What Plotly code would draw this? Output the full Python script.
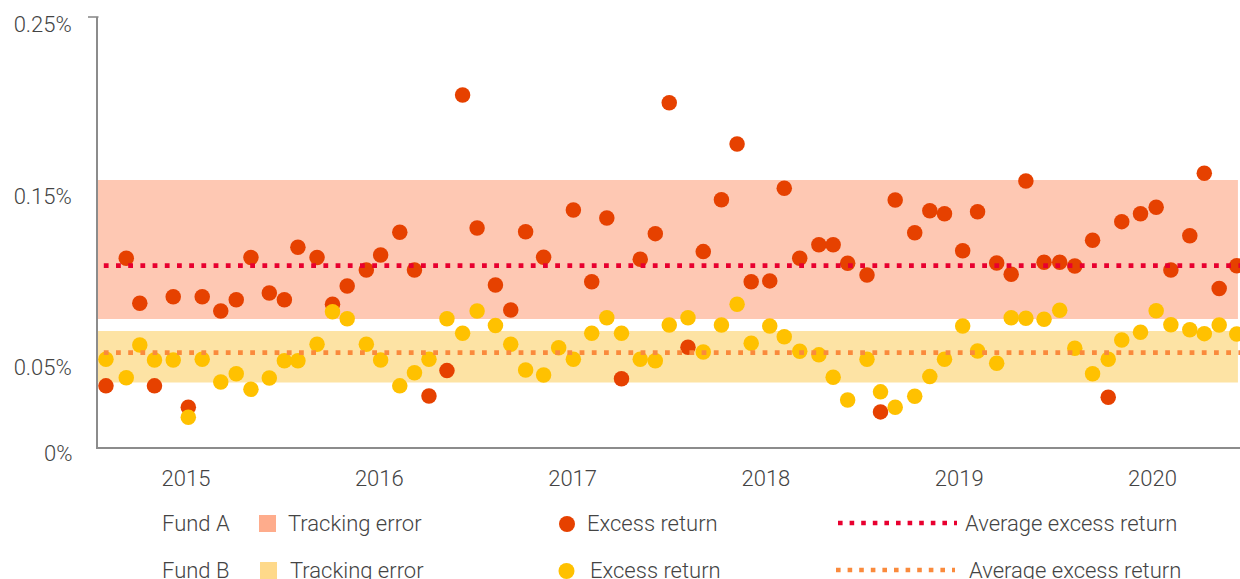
import plotly.graph_objects as go

# ---------------- data ----------------
dates = [2014.586, 2014.691, 2014.761, 2014.837, 2014.934, 2015.012, 2015.084, 2015.180, 2015.260, 2015.336,
         2015.431, 2015.509, 2015.579, 2015.678, 2015.758, 2015.834, 2015.933, 2016.007, 2016.106, 2016.182,
         2016.257, 2016.350, 2016.431, 2016.506, 2016.601, 2016.680, 2016.757, 2016.850, 2016.928, 2017.004,
         2017.099, 2017.177, 2017.253, 2017.350, 2017.428, 2017.500, 2017.597, 2017.676, 2017.770, 2017.851,
         2017.924, 2018.020, 2018.095, 2018.175, 2018.274, 2018.348, 2018.423, 2018.523, 2018.593, 2018.669,
         2018.770, 2018.848, 2018.924, 2019.018, 2019.095, 2019.194, 2019.269, 2019.345, 2019.439, 2019.520,
         2019.598, 2019.690, 2019.771, 2019.841, 2019.938, 2020.019, 2020.095, 2020.193, 2020.268, 2020.345,
         2020.436]

fund_a_excess = [0.0391, 0.1136, 0.0873, 0.0391, 0.0912, 0.0266, 0.0912, 0.0828, 0.0894, 0.1140,
                 0.0933, 0.0894, 0.1200, 0.1140, 0.0867, 0.0974, 0.1068, 0.1155, 0.1288, 0.1068,
                 0.0332, 0.0480, 0.2089, 0.1313, 0.0980, 0.0834, 0.1291, 0.1142, None, 0.1418,
                 0.0999, 0.1371, 0.0433, 0.1130, 0.1280, 0.2044, 0.0616, 0.1175, 0.1478, 0.1803,
                 0.0999, 0.1004, 0.1545, 0.1136, 0.1215, 0.1215, 0.1107, 0.1039, 0.0239, 0.1476,
                 0.1285, 0.1414, 0.1396, 0.1180, 0.1408, 0.1109, 0.1043, 0.1587, 0.1113, 0.1113,
                 0.1091, 0.1241, 0.0325, 0.1350, 0.1396, 0.1434, 0.1068, 0.1268, 0.1632, 0.0959,
                 0.1093]

fund_b_excess = [0.0546, 0.0439, 0.0630, 0.0542, 0.0542, 0.0208, 0.0546, 0.0414, 0.0462, 0.0371,
                 0.0437, 0.0538, 0.0538, 0.0634, 0.0824, 0.0783, 0.0634, 0.0542, 0.0391, 0.0468,
                 0.0546, 0.0783, 0.0698, 0.0828, 0.0743, 0.0634, 0.0484, 0.0455, 0.0614, 0.0546,
                 0.0698, 0.0789, 0.0698, 0.0546, 0.0538, 0.0747, 0.0789, 0.0589, 0.0747, 0.0867,
                 0.0640, 0.0741, 0.0678, 0.0593, 0.0572, 0.0441, 0.0309, 0.0546, 0.0356, 0.0266,
                 0.0330, 0.0445, 0.0546, 0.0741, 0.0595, 0.0523, 0.0789, 0.0786, 0.0780, 0.0832,
                 0.0611, 0.0462, 0.0546, 0.0659, 0.0704, 0.0830, 0.0748, 0.0719, 0.0696, 0.0747,
                 0.0694]

fund_a_tracking = [0.0782, 0.1593]   # band low / high (%)
fund_b_tracking = [0.0410, 0.0712]
fund_a_avg = 0.1093
fund_b_avg = 0.0585

year_ticks = [2015, 2016, 2017, 2018, 2019, 2020]
year_labels = ["2015", "2016", "2017", "2018", "2019", "2020"]
y_ticks = [0.05, 0.15, 0.25]
y_labels = ["0.05%", "0.15%", "0.25%"]

# ---------------- style ----------------
W, H = 1240, 579
ML, MR, MT, MB = 98, 0, 17, 132
X_RANGE = [2014.5448, 2020.4527]
Y_RANGE = [0.0034, 0.2545]
FONT = "Roboto"
FS = 22
TXT = "#444444"
RED = "#E64100"
YEL = "#FFC100"
RED_AVG = "#E8002F"
ORG_AVG = "#FA8A3C"
BAND_A = "#FEC8B3"
BAND_B = "#FDE3A4"
SQ_A = "#FEAC8C"
SQ_B = "#FED98A"
TFONT = dict(family=FONT, size=FS, color=TXT, weight=300)


def px(x):  # pixel -> paper x
    return (x - ML) / (W - ML - MR)


def py(y):  # pixel -> paper y
    return (H - MB - y) / (H - MT - MB)


fig = go.Figure()

# tracking error bands
band_right = 2020.442
for lo_hi, col in ((fund_a_tracking, BAND_A), (fund_b_tracking, BAND_B)):
    fig.add_shape(type="rect", xref="x", yref="y", x0=X_RANGE[0], x1=band_right,
                  y0=lo_hi[0], y1=lo_hi[1], fillcolor=col, line_width=0, layer="below")

# excess return markers
fig.add_trace(go.Scatter(x=dates, y=fund_a_excess, mode="markers", name="Fund A excess return",
                         marker=dict(color=RED, size=15.5, line=dict(width=0)), cliponaxis=False))
fig.add_trace(go.Scatter(x=dates, y=fund_b_excess, mode="markers", name="Fund B excess return",
                         marker=dict(color=YEL, size=15.5, line=dict(width=0)), cliponaxis=False))

# average lines
for avg, col in ((fund_a_avg, RED_AVG), (fund_b_avg, ORG_AVG)):
    fig.add_trace(go.Scatter(x=[X_RANGE[0] + 0.03, X_RANGE[1]], y=[avg, avg], mode="lines",
                             line=dict(color=col, width=4.8, dash="4.8px,7.4px"),
                             hoverinfo="skip", showlegend=False))

# top stub of the y axis
fig.add_shape(type="line", xref="paper", yref="paper", x0=px(88), x1=px(98.5), y0=1, y1=1,
              line=dict(color="#8c8c8c", width=1.6))

annotations = []
# 0% label (sits just below the axis floor)
annotations.append(dict(text="0%", xref="paper", yref="paper", x=px(74), y=py(453),
                        xanchor="right", yanchor="middle", showarrow=False, font=TFONT))

# custom legend
rows = [
    dict(yc=523, fund="Fund A", sq=SQ_A, sqx=259, dot=RED, dotx=567, tx1=286, tx2=585,
         lx0=838, lx1=957, lcol=RED_AVG, tx3=963),
    dict(yc=570, fund="Fund B", sq=SQ_B, sqx=260, dot=YEL, dotx=566.5, tx1=288, tx2=588,
         lx0=836, lx1=955, lcol=ORG_AVG, tx3=967),
]
for r in rows:
    yc = r["yc"]
    annotations.append(dict(text=r["fund"], xref="paper", yref="paper", x=px(160), y=py(yc),
                            xanchor="left", yanchor="middle", showarrow=False, font=TFONT))
    fig.add_shape(type="rect", xref="paper", yref="paper", x0=px(r["sqx"]), x1=px(r["sqx"] + 17),
                  y0=py(yc + 9), y1=py(yc - 8), fillcolor=r["sq"], line_width=0)
    annotations.append(dict(text="Tracking error", xref="paper", yref="paper", x=px(r["tx1"]), y=py(yc),
                            xanchor="left", yanchor="middle", showarrow=False, font=TFONT))
    fig.add_shape(type="circle", xref="paper", yref="paper", x0=px(r["dotx"] - 8), x1=px(r["dotx"] + 8),
                  y0=py(yc + 9), y1=py(yc - 7), fillcolor=r["dot"], line_width=0)
    annotations.append(dict(text="Excess return", xref="paper", yref="paper", x=px(r["tx2"]), y=py(yc),
                            xanchor="left", yanchor="middle", showarrow=False, font=TFONT))
    fig.add_shape(type="line", xref="paper", yref="paper", x0=px(r["lx0"]), x1=px(r["lx1"]),
                  y0=py(yc), y1=py(yc), line=dict(color=r["lcol"], width=4.6, dash="4.6px,7px"))
    annotations.append(dict(text="Average excess return", xref="paper", yref="paper", x=px(r["tx3"]),
                            y=py(yc), xanchor="left", yanchor="middle", showarrow=False, font=TFONT))

fig.update_layout(
    width=W, height=H,
    margin=dict(l=ML, r=MR, t=MT, b=MB, pad=0),
    paper_bgcolor="white", plot_bgcolor="white",
    showlegend=False,
    annotations=annotations,
    font=TFONT,
    xaxis=dict(range=X_RANGE, tickvals=year_ticks, ticktext=year_labels, showgrid=False,
               zeroline=False, showline=True, linecolor="#8c8c8c", linewidth=1.6, ticks="",
               ticklabelstandoff=11, tickfont=TFONT),
    yaxis=dict(range=Y_RANGE, tickvals=y_ticks, ticktext=y_labels, showgrid=False,
               zeroline=False, showline=True, linecolor="#8c8c8c", linewidth=1.6, ticks="",
               ticklabelstandoff=20, tickfont=TFONT),
)

fig.write_html("out.html", config={"displayModeBar": False},
               post_script="document.body.style.margin='0';document.body.style.overflow='hidden';")
